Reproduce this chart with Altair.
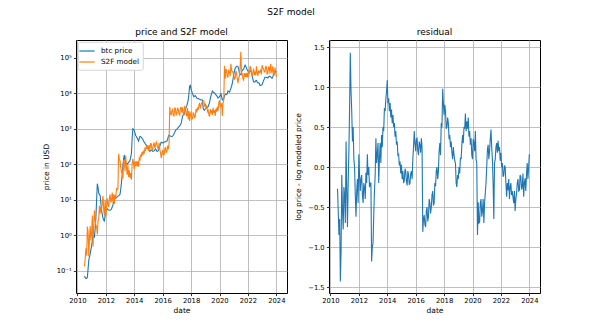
import altair as alt
import pandas as pd

# sampling grid: one value every 0.05 year, from mid-2010 to 2024.0
first_year = 2010.5
step = 0.05

# BTC price, log10 of USD
btc_price_log10 = [
    -1.15, -1.20, -1.22, -1.22, -1.19, -0.95, -0.70, -0.62, -0.52, -0.40,                      # 2010.50-2010.95
    -0.30, -0.15, 0.00, -0.02, -0.05, 0.20, 0.48, 1.00, 1.45, 1.35,                             # 2011
    1.18, 1.15, 1.11, 0.90, 0.70, 0.58, 0.48, 0.42, 0.40, 0.55,
    0.70, 0.72, 0.74, 0.72, 0.70, 0.70, 0.70, 0.72, 0.74, 0.80,                                 # 2012
    0.85, 0.95, 1.04, 1.04, 1.04, 1.06, 1.08, 1.10, 1.11, 1.13,
    1.15, 1.30, 1.48, 1.70, 1.95, 2.15, 2.26, 2.10, 2.04, 2.02,                                 # 2013
    2.00, 2.02, 2.04, 2.08, 2.11, 2.20, 2.30, 2.70, 3.00, 2.98,
    2.95, 2.88, 2.81, 2.78, 2.74, 2.70, 2.65, 2.72, 2.78, 2.77,                                 # 2014
    2.76, 2.73, 2.70, 2.66, 2.62, 2.59, 2.56, 2.53, 2.51, 2.45,
    2.40, 2.38, 2.36, 2.38, 2.40, 2.38, 2.36, 2.37, 2.38, 2.40,                                 # 2015
    2.43, 2.40, 2.36, 2.37, 2.38, 2.45, 2.51, 2.57, 2.62, 2.61,
    2.60, 2.61, 2.62, 2.63, 2.63, 2.64, 2.65, 2.70, 2.78, 2.82,                                 # 2016
    2.81, 2.79, 2.78, 2.78, 2.79, 2.82, 2.86, 2.90, 2.95, 2.97,
    2.98, 3.01, 3.04, 3.06, 3.08, 3.11, 3.15, 3.25, 3.36, 3.38,                                 # 2017
    3.40, 3.47, 3.54, 3.60, 3.65, 3.73, 3.81, 4.00, 4.20, 4.22,
    4.11, 4.05, 3.98, 3.94, 3.90, 3.92, 3.93, 3.90, 3.86, 3.85,                                 # 2018
    3.85, 3.84, 3.83, 3.82, 3.81, 3.81, 3.81, 3.58, 3.53, 3.52,
    3.56, 3.57, 3.58, 3.60, 3.62, 3.68, 3.74, 3.85, 3.93, 4.00,                                 # 2019
    4.06, 4.04, 4.02, 4.00, 3.98, 3.95, 3.93, 3.90, 3.86, 3.88,
    3.90, 3.94, 3.98, 3.90, 3.81, 3.83, 3.85, 3.92, 3.97, 3.97,                                 # 2020
    3.96, 4.00, 4.06, 4.05, 4.03, 4.08, 4.13, 4.20, 4.28, 4.40,
    4.52, 4.62, 4.70, 4.73, 4.76, 4.76, 4.75, 4.68, 4.57, 4.53,                                 # 2021
    4.52, 4.58, 4.65, 4.66, 4.67, 4.75, 4.79, 4.76, 4.70, 4.66,
    4.62, 4.61, 4.62, 4.63, 4.63, 4.58, 4.49, 4.40, 4.32, 4.31,                                 # 2022
    4.32, 4.35, 4.36, 4.32, 4.29, 4.29, 4.28, 4.22, 4.22, 4.23,
    4.24, 4.30, 4.36, 4.40, 4.45, 4.45, 4.45, 4.44, 4.43, 4.46,                                 # 2023
    4.48, 4.47, 4.46, 4.44, 4.42, 4.46, 4.53, 4.55, 4.57, 4.60,
    4.62,                                                                                        # 2024.0
]

# S2F model price, log10 of USD
s2f_model_log10 = [
    -0.88, -0.65, -0.37, -0.57, 0.24, 0.10, -0.60, -0.07, 0.26, -0.15,
    0.05, 0.55, -0.32, 0.28, 0.70, 0.40, 0.28, 0.25, 0.02, 0.40,
    0.48, 0.83, 0.61, 0.80, 0.70, 0.93, 1.10, 0.72, 0.55, 1.00,
    0.54, 0.82, 1.04, 0.87, 0.80, 1.05, 1.15, 0.92, 0.99, 1.20,
    0.92, 1.15, 0.88, 1.14, 1.04, 1.31, 1.28, 1.30, 2.29, 2.13,
    2.10, 1.90, 1.78, 1.80, 1.59, 2.10, 2.10, 1.80, 2.24, 1.92,
    1.70, 1.97, 1.64, 1.83, 1.61, 1.75, 1.56, 2.00, 2.15, 2.03,
    1.86, 2.08, 1.95, 2.08, 1.94, 2.08, 1.93, 2.17, 2.13, 2.27,
    2.21, 2.35, 2.25, 2.38, 2.30, 2.44, 2.40, 2.51, 2.44, 2.53,
    2.37, 2.53, 2.41, 2.58, 2.57, 2.40, 2.41, 2.55, 2.61, 2.45,
    2.53, 2.62, 2.56, 2.45, 2.43, 2.60, 2.41, 2.32, 2.17, 2.31,
    2.40, 2.26, 2.26, 2.43, 2.48, 2.32, 2.37, 2.52, 2.42, 2.57,
    3.62, 3.44, 3.38, 3.50, 3.54, 3.37, 3.36, 3.58, 3.57, 3.37,
    3.43, 3.59, 3.54, 3.41, 3.38, 3.59, 3.60, 3.45, 3.60, 3.43,
    3.40, 3.62, 3.59, 3.40, 3.35, 3.58, 3.26, 3.50, 3.22, 3.42,
    3.46, 3.27, 3.28, 3.46, 3.40, 3.30, 3.38, 3.55, 3.46, 3.60,
    3.53, 3.66, 3.73, 3.57, 3.66, 3.73, 3.76, 3.78, 3.78, 3.62,
    3.71, 3.57, 3.66, 3.48, 3.52, 3.40, 3.34, 3.55, 3.43, 3.52,
    3.39, 3.59, 3.45, 3.52, 3.36, 3.57, 3.48, 3.62, 3.50, 3.73,
    3.80, 3.59, 3.68, 3.70, 3.36, 3.73, 3.80, 4.77, 4.41, 4.67,
    4.65, 4.45, 4.46, 4.67, 4.58, 4.48, 4.83, 4.65, 4.60, 4.60,
    4.52, 4.40, 4.42, 4.63, 4.56, 4.41, 4.28, 4.43, 4.47, 4.73,
    5.17, 4.53, 4.55, 4.41, 4.37, 4.57, 4.46, 4.56, 4.45, 4.58,
    4.44, 4.61, 4.57, 4.75, 4.73, 4.56, 4.49, 4.60, 4.69, 4.51,
    4.61, 4.50, 4.76, 4.57, 4.49, 4.64, 4.58, 4.60, 4.67, 4.53,
    4.79, 4.70, 4.69, 4.60, 4.60, 4.75, 4.74, 4.54, 4.55, 4.74,
    4.73, 4.55, 4.83, 4.64, 4.56, 4.76, 4.63, 4.50, 4.72, 4.60,
    4.46,
]

# residual: log price - log modeled price
residual = [
    -0.27, -0.55, -0.85, -0.65, -1.43, -1.05, -0.10, -0.55, -0.78, -0.25,
    -0.35, -0.70, 0.32, -0.30, -0.75, -0.20, 0.20, 0.75, 1.43, 0.95,
    0.70, 0.32, 0.50, 0.10, 0.00, -0.35, -0.62, -0.30, -0.15, -0.45,
    0.16, -0.10, -0.30, -0.15, -0.10, -0.35, -0.45, -0.20, -0.25, -0.40,
    -0.07, -0.20, 0.16, -0.10, 0.00, -0.25, -0.20, -0.20, -1.18, -1.00,
    -0.95, -0.60, -0.30, -0.10, 0.36, 0.05, 0.16, 0.30, -0.20, 0.10,
    0.30, 0.05, 0.40, 0.25, 0.50, 0.45, 0.74, 0.70, 0.85, 0.95,
    1.09, 0.80, 0.86, 0.70, 0.80, 0.62, 0.72, 0.55, 0.65, 0.50,
    0.55, 0.38, 0.45, 0.28, 0.32, 0.15, 0.16, 0.02, 0.07, -0.08,
    0.03, -0.15, -0.05, -0.20, -0.17, -0.02, -0.05, -0.18, -0.23, -0.05,
    -0.10, -0.22, -0.20, -0.08, -0.05, -0.15, 0.10, 0.25, 0.45, 0.30,
    0.20, 0.35, 0.36, 0.20, 0.15, 0.32, 0.28, 0.18, 0.36, 0.25,
    -0.81, -0.65, -0.60, -0.72, -0.75, -0.55, -0.50, -0.68, -0.62, -0.40,
    -0.45, -0.58, -0.50, -0.35, -0.30, -0.48, -0.45, -0.20, -0.24, -0.05,
    0.00, -0.15, -0.05, 0.20, 0.30, 0.15, 0.55, 0.50, 0.98, 0.80,
    0.65, 0.78, 0.70, 0.48, 0.50, 0.62, 0.55, 0.35, 0.40, 0.25,
    0.32, 0.18, 0.10, 0.25, 0.15, 0.08, 0.05, -0.20, -0.25, -0.10,
    -0.15, 0.00, -0.08, 0.12, 0.10, 0.28, 0.40, 0.30, 0.50, 0.48,
    0.67, 0.45, 0.57, 0.48, 0.62, 0.38, 0.45, 0.28, 0.36, 0.15,
    0.10, 0.35, 0.30, 0.20, 0.45, 0.10, 0.05, -0.85, -0.44, -0.70,
    -0.69, -0.45, -0.40, -0.62, -0.55, -0.40, -0.70, -0.45, -0.32, -0.20,
    0.00, 0.22, 0.28, 0.10, 0.20, 0.35, 0.47, 0.25, 0.10, -0.20,
    -0.65, 0.05, 0.10, 0.25, 0.30, 0.18, 0.33, 0.20, 0.25, 0.08,
    0.18, 0.00, 0.05, -0.12, -0.10, 0.02, 0.00, -0.20, -0.37, -0.20,
    -0.29, -0.15, -0.40, -0.25, -0.20, -0.35, -0.30, -0.38, -0.45, -0.30,
    -0.55, -0.40, -0.33, -0.20, -0.15, -0.30, -0.29, -0.10, -0.12, -0.28,
    -0.25, -0.08, -0.37, -0.20, -0.14, -0.30, -0.10, 0.05, -0.15, 0.00,
    0.16,
]

series_names = ["btc price", "S2F model"]
series_colors = ["#1f77b4", "#ff7f0e"]
x_ticks = [2010, 2012, 2014, 2016, 2018, 2020, 2022, 2024]
y_log_ticks = [0.1, 1, 10, 100, 1000, 10000, 100000]
y_log_labels = ["10⁻¹", "10⁰", "10¹", "10²", "10³", "10⁴", "10⁵"]
y_res_ticks = [-1.5, -1.0, -0.5, 0.0, 0.5, 1.0, 1.5]

n = len(btc_price_log10)
years = [round(first_year + step * i, 3) for i in range(n)]
df = pd.DataFrame({
    "year": years,
    "btc": [10 ** v for v in btc_price_log10],
    "s2f": [10 ** v for v in s2f_model_log10],
    "res": residual,
})

FONT = "DejaVu Sans"
TICK_FS = 6.8
LABEL_FS = 7.5
TITLE_FS = 9

parts = [f"datum.value < {v * 3:g} ? '{lab}'" for v, lab in zip(y_log_ticks[:-1], y_log_labels[:-1])]
log_label_expr = " : ".join(parts) + f" : '{y_log_labels[-1]}'"

x_scale = alt.Scale(domain=[2009.9, 2024.75], nice=False, zero=False)
x_axis = alt.Axis(values=x_ticks, format="d", title="date", titlePadding=1.5)

color_scale = alt.Scale(domain=series_names, range=series_colors)
legend = alt.Legend(
    title=None, orient="top-left", offset=2,
    labelFont=FONT, labelFontSize=7.2, labelColor="black",
    symbolType="M-1.9,0H1.9", symbolSize=64, symbolStrokeWidth=1.2,
    labelOffset=9,
)

base = alt.Chart(df).encode(x=alt.X("year:Q", scale=x_scale, axis=x_axis))
y_log = alt.Y(
    "v:Q",
    scale=alt.Scale(type="log", domain=[0.0234, 316000], nice=False),
    axis=alt.Axis(values=y_log_ticks, labelExpr=log_label_expr, title="price in USD", titlePadding=6),
)
col = alt.Color("series:N", scale=color_scale, legend=legend)

blue = base.transform_calculate(v="datum.btc", series="'btc price'").mark_line(strokeWidth=1.1).encode(y=y_log, color=col)
orange = base.transform_calculate(v="datum.s2f", series="'S2F model'").mark_line(strokeWidth=1.1).encode(y=y_log, color=col)

left = alt.layer(blue, orange).properties(
    width=211, height=253,
    title=alt.TitleParams("price and S2F model", fontSize=TITLE_FS, font=FONT, fontWeight="normal", offset=3),
)

right = base.mark_line(strokeWidth=1.1, color="#1f77b4").encode(
    y=alt.Y(
        "res:Q",
        scale=alt.Scale(domain=[-1.575, 1.59], nice=False, zero=False),
        axis=alt.Axis(values=y_res_ticks, labelExpr="replace(format(datum.value, '.1f'), '-', '\u2212')",
                      title="log price - log modeled price", titlePadding=5),
    )
).properties(
    width=211, height=253,
    title=alt.TitleParams("residual", fontSize=TITLE_FS, font=FONT, fontWeight="normal", offset=3),
)

chart = alt.hconcat(left, right, spacing=42, bounds="flush").properties(
    title=alt.TitleParams("S2F model", fontSize=TITLE_FS, font=FONT, fontWeight="normal", anchor="middle", offset=11),
    padding={"left": 41, "top": 7, "right": 40, "bottom": 5},
).configure_view(
    stroke="black", strokeWidth=1
).configure_axis(
    labelFont=FONT, titleFont=FONT, labelFontSize=TICK_FS, titleFontSize=LABEL_FS,
    labelColor="black", titleColor="black", titleFontWeight="normal",
    tickColor="black", tickSize=2.6, tickWidth=0.8, labelPadding=2.2,
    domain=False, gridColor="#b0b0b0", gridWidth=0.8,
).configure_legend(
    fillColor="white", strokeColor="#cccccc", strokeWidth=0.8, cornerRadius=2,
    padding=4, rowPadding=2,
).configure_title(
    color="black"
)

chart.save("out.html", embed_options={"renderer": "svg", "actions": False})
